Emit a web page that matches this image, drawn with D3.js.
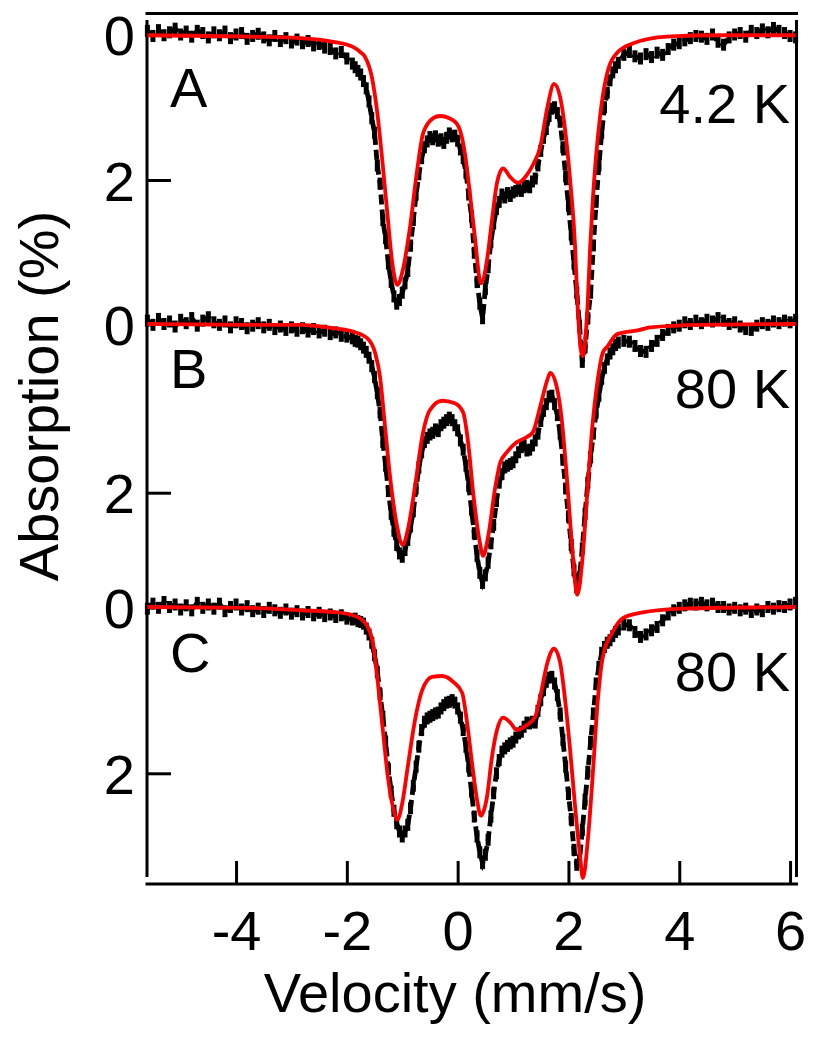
<!DOCTYPE html>
<html><head><meta charset="utf-8">
<script src="https://cdn.jsdelivr.net/npm/d3@7/dist/d3.min.js"></script>
<style>
body{margin:0;background:#fff}
svg text{font-family:"Liberation Sans",Arial,Helvetica,sans-serif;fill:#000}
</style>
</head><body>
<svg id="chart" width="826" height="1050"></svg>
<script>
// ---------- DATA ----------
const velocity = [
 -5.6,-5.5,-5.4,-5.3,-5.2,-5.1,-5.0,-4.9,-4.8,-4.7,
 -4.6,-4.5,-4.4,-4.3,-4.2,-4.1,-4.0,-3.9,-3.8,-3.7,
 -3.6,-3.5,-3.4,-3.3,-3.2,-3.1,-3.0,-2.9,-2.8,-2.7,
 -2.6,-2.5,-2.4,-2.3,-2.2,-2.1,-2.0,
 -1.9,-1.85,-1.8,-1.75,-1.7,-1.65,-1.6,-1.55,-1.5,-1.45,
 -1.4,-1.35,-1.3,-1.25,-1.2,-1.15,-1.1,-1.05,-1.0,-0.95,
 -0.9,-0.85,-0.8,-0.75,-0.7,-0.65,-0.6,-0.55,-0.5,-0.45,
 -0.4,-0.35,-0.3,-0.25,-0.2,-0.15,-0.1,-0.05,0,0.05,
 0.1,0.15,0.2,0.25,0.3,0.35,0.4,0.45,0.5,0.55,
 0.6,0.65,0.7,0.75,0.8,0.85,0.9,0.95,1.0,1.05,
 1.1,1.15,1.2,1.25,1.3,1.35,1.4,1.45,1.5,1.55,
 1.6,1.65,1.7,1.75,1.8,1.85,1.9,1.95,2.0,2.05,
 2.1,2.15,2.2,2.25,2.3,2.35,2.4,2.45,2.5,2.55,
 2.6,2.65,2.7,2.75,2.8,2.85,2.9,
 3.0,3.1,3.2,3.3,3.4,3.5,3.6,3.7,3.8,3.9,
 4.0,4.1,4.2,4.3,4.4,4.5,4.6,4.7,4.8,4.9,
 5.0,5.1,5.2,5.3,5.4,5.5,5.6,5.7,5.8,5.9,
 6.0,6.1
];

// Measured absorption (%) – panel A (4.2 K)
const absorptionA = [
 -0.05,0.02,-0.06,0.01,-0.03,-0.08,0.00,-0.04,0.03,-0.05,
 -0.02,0.04,-0.03,0.01,-0.04,0.05,0.00,-0.02,0.06,0.02,
 -0.01,0.04,0.08,0.02,0.09,0.05,0.11,0.07,0.12,0.09,
 0.15,0.13,0.18,0.20,0.26,0.24,0.33,
 0.40,0.45,0.50,0.55,0.64,0.74,0.92,1.15,1.35,1.80,
 2.05,2.55,2.80,3.15,3.40,3.60,3.70,3.65,3.55,3.42,
 3.25,2.90,2.55,2.20,1.92,1.70,1.55,1.47,1.41,1.44,
 1.40,1.46,1.44,1.49,1.42,1.36,1.40,1.39,1.46,1.58,
 1.70,1.90,2.20,2.50,3.00,3.40,3.70,3.90,3.50,3.20,
 2.85,2.60,2.40,2.30,2.20,2.24,2.18,2.22,2.17,2.15,
 2.12,2.15,2.10,2.08,2.10,2.02,1.98,1.80,1.60,1.42,
 1.30,1.12,1.02,1.00,1.08,1.20,1.55,1.95,2.35,2.75,
 3.15,3.55,4.00,4.50,4.30,3.90,3.55,2.90,2.30,1.80,
 1.35,1.00,0.80,0.63,0.52,0.45,0.39,
 0.28,0.24,0.30,0.33,0.27,0.31,0.25,0.28,0.20,0.14,
 0.12,0.08,0.05,0.02,0.03,0.06,0.00,0.10,0.14,0.04,
 0.00,-0.02,0.03,-0.05,-0.02,-0.07,-0.03,-0.09,-0.05,-0.02,
 0.02,0.04
];

// Measured absorption (%) – panel B (80 K)
const absorptionB = [
 -0.04,0.01,-0.06,0.00,-0.03,0.03,-0.05,-0.01,-0.07,0.02,
 -0.04,-0.08,-0.02,0.01,-0.03,0.04,-0.02,0.00,0.05,0.02,
 -0.01,0.04,0.01,0.06,0.03,0.07,0.04,0.08,0.05,0.09,
 0.06,0.10,0.08,0.12,0.10,0.14,0.15,
 0.17,0.20,0.21,0.24,0.28,0.33,0.40,0.50,0.63,0.82,
 1.05,1.40,1.68,1.98,2.25,2.45,2.62,2.72,2.76,2.68,
 2.56,2.40,2.22,1.95,1.70,1.52,1.40,1.35,1.31,1.29,
 1.25,1.27,1.20,1.17,1.14,1.11,1.14,1.20,1.26,1.38,
 1.49,1.68,1.92,2.20,2.48,2.75,2.95,3.07,2.98,2.83,
 2.60,2.38,2.10,1.88,1.78,1.70,1.68,1.66,1.64,1.58,
 1.52,1.46,1.44,1.50,1.49,1.44,1.38,1.30,1.15,1.03,
 0.95,0.86,0.85,0.95,1.08,1.30,1.61,1.95,2.28,2.62,
 2.92,3.12,3.00,2.66,2.25,1.88,1.58,1.30,1.05,0.85,
 0.65,0.52,0.42,0.35,0.30,0.25,0.22,
 0.20,0.21,0.26,0.32,0.33,0.26,0.20,0.13,0.07,0.04,
 0.02,-0.02,0.00,-0.04,-0.01,-0.05,-0.03,-0.07,-0.04,0.00,
 -0.02,0.03,0.06,0.07,0.02,-0.01,0.01,-0.03,-0.01,-0.04,
 -0.02,-0.05
];

// Measured absorption (%) – panel C (80 K)
const absorptionC = [
 0.02,-0.04,0.01,-0.06,0.00,-0.03,0.03,-0.02,0.04,-0.05,
 0.01,-0.03,0.02,-0.04,0.05,0.00,-0.03,0.03,-0.01,0.05,
 0.02,0.06,0.01,0.04,0.07,0.03,0.08,0.05,0.09,0.06,
 0.10,0.07,0.11,0.09,0.12,0.10,0.14,
 0.15,0.14,0.17,0.18,0.20,0.26,0.33,0.43,0.58,0.78,
 1.05,1.32,1.62,1.95,2.22,2.45,2.60,2.70,2.76,2.70,
 2.62,2.42,2.15,1.92,1.68,1.48,1.38,1.34,1.32,1.30,
 1.28,1.27,1.22,1.18,1.15,1.14,1.12,1.15,1.22,1.33,
 1.48,1.68,1.92,2.22,2.52,2.76,2.95,3.08,2.98,2.80,
 2.52,2.24,2.00,1.84,1.74,1.70,1.67,1.64,1.62,1.57,
 1.52,1.50,1.44,1.39,1.40,1.38,1.39,1.25,1.12,1.00,
 0.90,0.85,0.84,0.92,1.06,1.28,1.60,1.92,2.25,2.55,
 2.92,3.10,3.05,2.68,2.32,1.98,1.62,1.28,0.92,0.72,
 0.55,0.48,0.43,0.40,0.35,0.30,0.27,
 0.21,0.22,0.30,0.36,0.33,0.28,0.24,0.16,0.09,0.04,
 0.01,-0.02,-0.04,-0.03,-0.05,-0.02,-0.04,0.00,0.00,0.03,
 0.01,0.04,0.02,0.06,0.03,0.05,0.00,0.02,-0.01,0.00,
 -0.03,-0.05
];

// Fitted curves: [velocity, absorption]
const fitA = [[-5.6,0.01],[-3.75,0.03],[-2.84,0.05],[-2.25,0.10],[-1.89,0.17],[-1.76,0.24],[-1.67,0.31],
 [-1.55,0.58],[-1.45,1.08],[-1.36,1.73],[-1.27,2.45],[-1.18,3.14],[-1.09,3.44],[-0.99,3.24],[-0.86,2.65],
 [-0.73,1.86],[-0.62,1.35],[-0.44,1.15],[-0.32,1.12],[-0.08,1.18],[0.04,1.31],[0.13,1.63],[0.22,2.18],
 [0.31,2.78],[0.42,3.42],[0.53,3.10],[0.62,2.55],[0.71,2.04],[0.82,1.84],[0.95,1.96],[1.09,2.04],
 [1.25,1.93],[1.36,1.79],[1.49,1.55],[1.62,1.00],[1.74,0.68],[1.85,0.86],[1.94,1.31],[2.03,2.00],
 [2.12,2.92],[2.16,3.65],[2.255,4.42],[2.35,3.65],[2.39,2.95],[2.44,2.27],[2.57,1.13],[2.70,0.53],
 [2.88,0.25],[3.17,0.12],[3.78,0.03],[4.69,0.01],[6.1,0.01]];

const fitB = [[-5.6,0.00],[-3.75,0.01],[-2.84,0.01],[-2.25,0.05],[-1.89,0.09],[-1.63,0.17],[-1.49,0.34],
 [-1.40,0.63],[-1.31,1.22],[-1.22,1.81],[-1.09,2.41],[-0.99,2.62],[-0.90,2.44],[-0.77,1.93],[-0.64,1.34],
 [-0.50,1.02],[-0.28,0.91],[-0.05,0.94],[0.10,1.05],[0.19,1.41],[0.28,2.00],[0.40,2.59],[0.46,2.75],
 [0.55,2.52],[0.68,1.93],[0.77,1.64],[0.89,1.52],[1.07,1.40],[1.25,1.34],[1.36,1.28],[1.49,0.98],
 [1.62,0.66],[1.67,0.58],[1.79,0.75],[1.88,1.14],[1.97,1.81],[2.06,2.59],[2.16,3.21],[2.25,2.80],
 [2.34,2.00],[2.43,1.22],[2.52,0.70],[2.62,0.34],[2.70,0.27],[2.88,0.12],[3.29,0.07],[3.47,0.04],
 [4.38,0.01],[6.1,0.00]];

const fitC = [[-5.6,0.00],[-3.75,0.01],[-2.84,0.04],[-2.25,0.06],[-1.89,0.10],[-1.67,0.19],[-1.53,0.43],
 [-1.44,0.91],[-1.35,1.48],[-1.26,2.04],[-1.13,2.50],[-1.09,2.56],[-1.00,2.36],[-0.90,1.92],[-0.77,1.36],
 [-0.64,1.00],[-0.46,0.84],[-0.28,0.83],[-0.08,0.90],[0.08,1.03],[0.17,1.39],[0.26,1.88],[0.35,2.32],
 [0.42,2.51],[0.53,2.28],[0.62,1.80],[0.71,1.48],[0.82,1.33],[0.95,1.39],[1.07,1.48],[1.25,1.42],
 [1.40,1.32],[1.49,1.08],[1.62,0.67],[1.74,0.50],[1.85,0.67],[1.94,1.12],[2.03,1.72],[2.12,2.40],
 [2.21,3.00],[2.26,3.26],[2.35,2.80],[2.44,2.00],[2.53,1.12],[2.62,0.60],[2.79,0.31],[2.99,0.13],
 [3.29,0.07],[4.07,0.02],[6.1,0.00]];

const xTickValues = [-4,-2,0,2,4,6];
const yTickValues = [0,2];
const panelNames = ["A","B","C"];
const temperatures = ["4.2 K","80 K","80 K"];
const xTitle = "Velocity (mm/s)";
const yTitle = "Absorption (%)";

// ---------- CHART ----------
const svg = d3.select("#chart");
const FONT = 56;
const x = d3.scaleLinear().domain([-5.6, 6.1]).range([147.4, 795.6]);

const panels = [
  {data: absorptionA, fit: fitA, y: d3.scaleLinear().domain([0,2]).range([34.5,180]),   nameY:107, tempY:123},
  {data: absorptionB, fit: fitB, y: d3.scaleLinear().domain([0,2]).range([324,492.7]),  nameY:388, tempY:408},
  {data: absorptionC, fit: fitC, y: d3.scaleLinear().domain([0,2]).range([607,773.3]),  nameY:672, tempY:691}
];

// frame
const frame = svg.append("g").attr("stroke","#000").attr("stroke-width",3);
frame.append("line").attr("x1",145.5).attr("x2",798).attr("y1",13.5).attr("y2",13.5);
frame.append("line").attr("x1",145.5).attr("x2",798).attr("y1",884).attr("y2",884);
frame.append("line").attr("x1",147).attr("x2",147).attr("y1",20).attr("y2",877);
frame.append("line").attr("x1",796.5).attr("x2",796.5).attr("y1",20).attr("y2",877);

// x axis
const gx = svg.append("g").attr("transform","translate(0,884)")
  .call(d3.axisBottom(x).tickValues(xTickValues).tickSize(-23).tickFormat(d => String(d)));
gx.select(".domain").remove();
gx.attr("font-family",null).attr("font-size",null);
gx.selectAll(".tick line").attr("stroke","#000").attr("stroke-width",3);
gx.selectAll(".tick text").attr("y",66).attr("dy",null).attr("font-size",FONT);

// y axes
panels.forEach((p,i) => {
  const gy = svg.append("g").attr("transform","translate(147,0)")
    .call(d3.axisLeft(p.y).tickValues(yTickValues).tickSize(-24).tickPadding(12).tickFormat(d3.format("d")));
  gy.select(".domain").remove();
  gy.attr("font-family",null).attr("font-size",null);
  gy.selectAll(".tick line").attr("stroke","#000").attr("stroke-width",3);
  gy.selectAll(".tick text").attr("dy","0.36em").attr("font-size",FONT);

  svg.append("text").attr("x",170).attr("y",p.nameY).attr("font-size",FONT).text(panelNames[i]);
  svg.append("text").attr("x",790).attr("y",p.tempY).attr("font-size",FONT)
     .attr("text-anchor","end").text(temperatures[i]);
});

// measured data (black)
panels.forEach(p => {
  const pts = velocity.map((v,i) => [v, p.data[i]]);
  const g = svg.append("g");
  g.append("path").datum(pts)
    .attr("fill","none").attr("stroke","#000").attr("stroke-width",4.8)
    .attr("stroke-dasharray","10 5")
    .attr("d", d3.line().x(d => x(d[0])).y(d => p.y(d[1])));
  g.selectAll("rect").data(pts).join("rect")
    .attr("x", d => x(d[0]) - 2.5).attr("y", d => p.y(d[1]) - 6)
    .attr("width",5).attr("height",12).attr("fill","#000");
});

// fits (red)
panels.forEach(p => {
  svg.append("path").datum(p.fit)
    .attr("fill","none").attr("stroke","#ff0000").attr("stroke-width",3.8)
    .attr("stroke-linejoin","round")
    .attr("d", d3.line().curve(d3.curveMonotoneX).x(d => x(d[0])).y(d => p.y(d[1])));
});

// titles
svg.append("text").attr("x",455).attr("y",1012).attr("font-size",FONT)
   .attr("text-anchor","middle").text(xTitle);
svg.append("text").attr("transform","translate(58,396) rotate(-90)").attr("font-size",FONT)
   .attr("text-anchor","middle").text(yTitle);
</script>
</body></html>
